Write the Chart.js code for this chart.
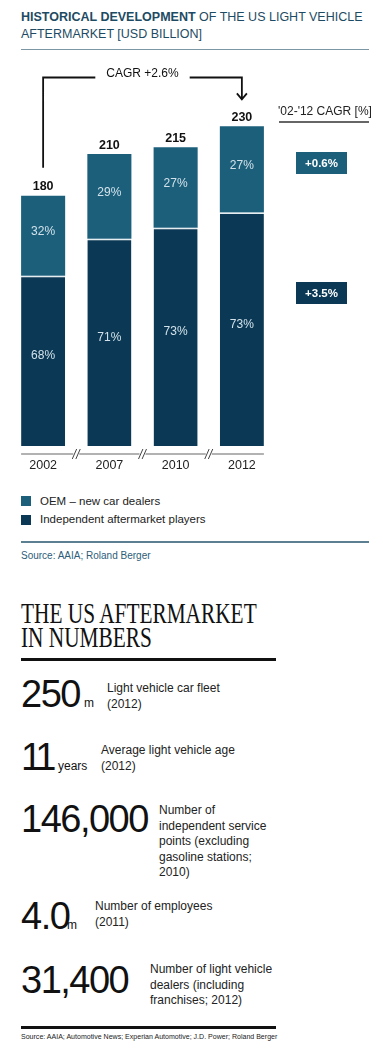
<!DOCTYPE html>
<html lang="en">
<head>
  <meta charset="UTF-8" />
  <title>US Light Vehicle Aftermarket</title>
  <script src="https://cdn.jsdelivr.net/npm/chart.js"></script>
  <style>
    html, body { margin: 0; padding: 0; }
    body {
      width: 383px;
      height: 1063px;
      position: relative;
      overflow: hidden;
      background: #fff;
      font-family: "Liberation Sans", Arial, sans-serif;
      color: #222;
    }
    .abs { position: absolute; white-space: nowrap; }
    .title { left: 21px; top: 9px; font-size: 12.5px; line-height: 16.5px; color: #1d4b63; }
    .title b { font-weight: 700; }
    .rule-blue { left: 21px; width: 348px; height: 1px; background: #7d96a4; }
    #chartBox { position: absolute; left: 0; top: 50px; width: 383px; height: 430px; }
    .legend-sq { width: 10px; height: 10px; left: 21px; }
    .legend-txt { left: 40px; font-size: 11.5px; line-height: 14px; color: #222; }
    .source1 { left: 21px; top: 550px; font-size: 10px; line-height: 12px; color: #2d5d79; }
    .big-title {
      left: 21px; top: 602px; font-family: "Liberation Serif", "Times New Roman", serif;
      font-size: 29px; line-height: 23.5px; color: #111;
      transform: scaleX(0.735); transform-origin: left top;
    }
    .rule-black { left: 21px; width: 255px; height: 2.5px; background: #111; }
    .num { left: 21px; font-size: 38px; line-height: 38px; letter-spacing: -1.5px; color: #111; }
    .unit { font-size: 12px; line-height: 12px; color: #111; }
    .desc { font-size: 12px; line-height: 15.5px; color: #222; }
    .source2 {
      left: 21px; top: 1032px; font-size: 8px; line-height: 10px; color: #222;
      transform: scaleX(0.88); transform-origin: left top;
    }
  </style>
</head>
<body>
  <!-- Header -->
  <div class="abs title"><b>HISTORICAL DEVELOPMENT</b> OF THE US LIGHT VEHICLE<br>AFTERMARKET [USD BILLION]</div>
  <div class="abs rule-blue" style="top:49px"></div>

  <!-- Chart -->
  <div id="chartBox"><canvas id="aftermarketChart" width="383" height="430"></canvas></div>

  <!-- Legend -->
  <div class="abs legend-sq" style="top:496px;background:#1b5f7b"></div>
  <div class="abs legend-txt" style="top:494px">OEM – new car dealers</div>
  <div class="abs legend-sq" style="top:515px;background:#0b3955"></div>
  <div class="abs legend-txt" style="top:512px">Independent aftermarket players</div>
  <div class="abs rule-blue" style="top:541px;height:1.5px;background:#5d7f92"></div>
  <div class="abs source1">Source: AAIA; Roland Berger</div>

  <!-- Numbers section -->
  <div class="abs big-title">THE US AFTERMARKET<br>IN NUMBERS</div>
  <div class="abs rule-black" style="top:658px"></div>

  <div class="abs num" style="top:675px">250</div>
  <div class="abs unit" style="left:84px;top:697px">m</div>
  <div class="abs desc" style="left:107px;top:681px">Light vehicle car fleet<br>(2012)</div>

  <div class="abs num" style="top:738px;letter-spacing:-4px">11</div>
  <div class="abs unit" style="left:58px;top:760px">years</div>
  <div class="abs desc" style="left:101px;top:743px">Average light vehicle age<br>(2012)</div>

  <div class="abs num" style="top:800px">146,000</div>
  <div class="abs desc" style="left:159px;top:803px">Number of<br>independent service<br>points (excluding<br>gasoline stations;<br>2010)</div>

  <div class="abs num" style="top:897px">4.0</div>
  <div class="abs unit" style="left:67px;top:919px">m</div>
  <div class="abs desc" style="left:95px;top:899px">Number of employees<br>(2011)</div>

  <div class="abs num" style="top:961px">31,400</div>
  <div class="abs desc" style="left:150px;top:962px">Number of light vehicle<br>dealers (including<br>franchises; 2012)</div>

  <div class="abs rule-black" style="top:1026px"></div>
  <div class="abs source2">Source: AAIA; Automotive News; Experian Automotive; J.D. Power; Roland Berger</div>

  <script>
    // values
    const years = ['2002', '2007', '2010', '2012'];
    const totals = [180, 210, 215, 230];            // USD billion
    const oemShare = [32, 29, 27, 27];              // % OEM - new car dealers
    const independentShare = [68, 71, 73, 73];      // % independent aftermarket players
    const totalCagr = 'CAGR +2.6%';
    const cagrHeader = "'02-'12 CAGR [%]";
    const oemCagr = '+0.6%';
    const independentCagr = '+3.5%';

    const OEM_COLOR = '#1b5f7b';
    const IND_COLOR = '#0b3955';
    const FONT = '"Liberation Sans", Arial, sans-serif';

    const independentValues = totals.map((t, i) => t * independentShare[i] / 100);
    const oemValues = totals.map((t, i) => t * oemShare[i] / 100);

    const annotations = {
      id: 'annotations',
      afterDatasetsDraw(chart) {
        const ctx = chart.ctx;
        const ind = chart.getDatasetMeta(0).data;
        const oem = chart.getDatasetMeta(1).data;
        ctx.save();

        // segment percentages
        ctx.fillStyle = '#d3e2ea';
        ctx.font = '12px ' + FONT;
        ctx.textAlign = 'center';
        ctx.textBaseline = 'middle';
        ind.forEach((bar, i) => {
          ctx.fillText(independentShare[i] + '%', bar.x, (bar.y + bar.base) / 2 - 5);
          const top = oem[i];
          ctx.fillText(oemShare[i] + '%', top.x, (top.y + top.base) / 2 - 4);
        });

        // totals above bars
        ctx.fillStyle = '#111';
        ctx.font = 'bold 12.5px ' + FONT;
        oem.forEach((bar, i) => ctx.fillText(String(totals[i]), bar.x, bar.y - 9));

        // x axis with break marks
        const first = ind[0], last = ind[ind.length - 1];
        const axisY = first.base + 8;
        ctx.strokeStyle = '#666';
        ctx.lineWidth = 1.2;
        ctx.beginPath();
        ctx.moveTo(first.x - first.width / 2, axisY);
        ctx.lineTo(last.x + last.width / 2, axisY);
        ctx.stroke();
        for (let i = 0; i < ind.length - 1; i++) {
          const mx = ((ind[i].x + ind[i].width / 2) + (ind[i + 1].x - ind[i + 1].width / 2)) / 2;
          ctx.fillStyle = '#fff';
          ctx.fillRect(mx - 3, axisY - 2, 6, 4);
          ctx.strokeStyle = '#444';
          ctx.lineWidth = 1;
          [-1.8, 1.8].forEach(dx => {
            ctx.beginPath();
            ctx.moveTo(mx + dx - 2.2, axisY + 5);
            ctx.lineTo(mx + dx + 2.2, axisY - 5);
            ctx.stroke();
          });
        }

        // year labels
        ctx.fillStyle = '#222';
        ctx.font = '12.5px ' + FONT;
        ind.forEach((bar, i) => ctx.fillText(years[i], bar.x, axisY + 12));

        // CAGR bracket from first to last bar
        const lineY = 27.5;
        const x0 = oem[0].x, x1 = oem[oem.length - 1].x;
        const midX = (x0 + x1) / 2;
        ctx.font = '12px ' + FONT;
        const tw = ctx.measureText(totalCagr).width;
        ctx.fillStyle = '#111';
        ctx.fillText(totalCagr, midX, lineY - 4);
        ctx.strokeStyle = '#111';
        ctx.lineWidth = 1.8;
        ctx.beginPath();
        ctx.moveTo(x0, oem[0].y - 28);
        ctx.lineTo(x0, lineY);
        ctx.lineTo(midX - tw / 2 - 11, lineY);
        ctx.moveTo(midX + tw / 2 + 11, lineY);
        ctx.lineTo(x1, lineY);
        const tipY = oem[oem.length - 1].y - 27;
        ctx.lineTo(x1, tipY);
        ctx.moveTo(x1 - 5, tipY - 6);
        ctx.lineTo(x1, tipY);
        ctx.lineTo(x1 + 5, tipY - 6);
        ctx.stroke();

        // right panel: segment CAGRs
        ctx.textAlign = 'left';
        ctx.fillStyle = '#222';
        ctx.font = '12px ' + FONT;
        ctx.fillText(cagrHeader, 278, 62);
        ctx.strokeStyle = '#333';
        ctx.lineWidth = 1.5;
        ctx.beginPath();
        ctx.moveTo(279, 72);
        ctx.lineTo(369, 72);
        ctx.stroke();

        ctx.textAlign = 'center';
        ctx.font = 'bold 11.5px ' + FONT;
        [[oemCagr, OEM_COLOR, 102], [independentCagr, IND_COLOR, 232]].forEach(([txt, col, y]) => {
          ctx.fillStyle = col;
          ctx.fillRect(296, y, 51, 22);
          ctx.fillStyle = '#fff';
          ctx.fillText(txt, 321.5, y + 11.5);
        });

        ctx.restore();
      }
    };

    new Chart(document.getElementById('aftermarketChart'), {
      type: 'bar',
      data: {
        labels: years,
        datasets: [
          {
            label: 'Independent aftermarket players',
            data: independentValues,
            backgroundColor: IND_COLOR,
            borderColor: '#e6edf1',
            borderWidth: { top: 1.5, right: 0, bottom: 0, left: 0 },
            borderSkipped: false
          },
          {
            label: 'OEM – new car dealers',
            data: oemValues,
            backgroundColor: OEM_COLOR,
            borderWidth: 0
          }
        ]
      },
      options: {
        responsive: false,
        devicePixelRatio: 1,
        animation: false,
        layout: { padding: { left: 10, right: 108, top: 48.5, bottom: 34 } },
        datasets: { bar: { barPercentage: 0.665, categoryPercentage: 1 } },
        scales: {
          x: { display: false, stacked: true },
          y: { display: false, stacked: true, min: 0, max: 250 }
        },
        plugins: { legend: { display: false }, tooltip: { enabled: false } }
      },
      plugins: [annotations]
    });
  </script>
</body>
</html>
